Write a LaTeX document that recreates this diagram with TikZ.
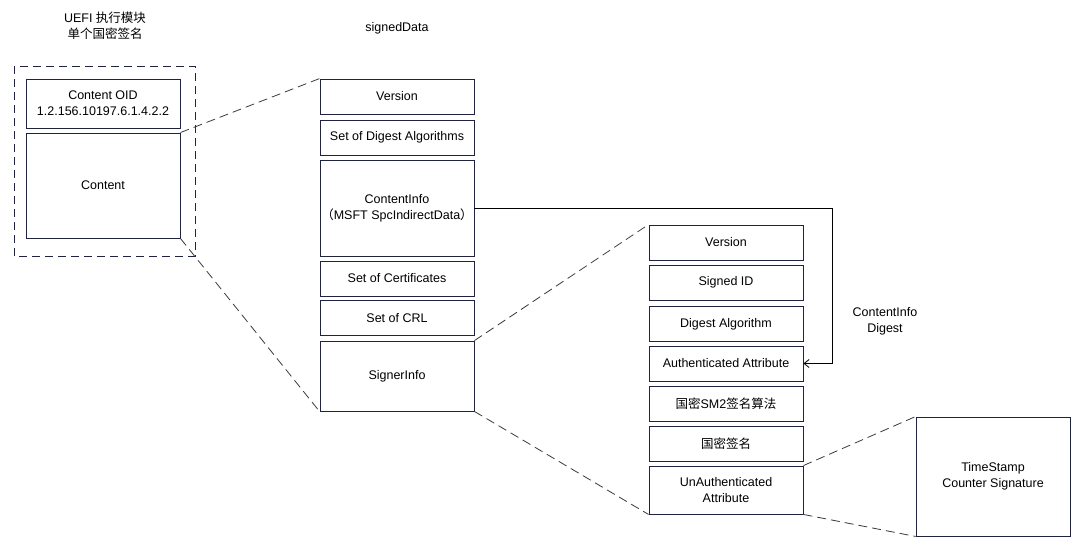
\documentclass[tikz,border=0pt]{standalone}
\usepackage{fontspec}
\setmainfont{Liberation Sans}
\newfontfamily\cjk{Noto Sans CJK SC}
\usepackage{tikz}
\usetikzlibrary{calc, positioning, arrows.meta}

\definecolor{boxline}{HTML}{1F2340}
\definecolor{zoomline}{HTML}{3A3A3A}

\tikzset{
  cell/.style={draw=boxline, line width=0.9pt, minimum width=154pt, inner sep=0pt, align=center},
  zoom/.style={draw=zoomline, line width=0.8pt, dash pattern=on 9pt off 5pt},
}

\begin{document}
\begin{tikzpicture}[x=1pt, y=-1pt, >={Straight Barb[length=5pt, width=8pt]},
  font=\fontsize{12.5}{16}\selectfont]
  \useasboundingbox (0,0) rectangle (1078,541);

  % titles
  \node (title) at (105,26) [align=center] {UEFI {\cjk 执行模块}\\{\cjk 单个国密签名}};
  \node (sd) at (397,28) {signedData};

  % image file
  \draw [boxline, line width=0.9pt, dash pattern=on 8pt off 5pt] (14,66) rectangle (195,256);
  \node (oid) at (103,103.5) [cell, minimum height=49pt] {Content OID\\1.2.156.10197.6.1.4.2.2};
  \node (content) at (103,185.5) [cell, minimum height=105pt] {Content};

  % signedData
  \node (ver) at (397,96.5) [cell, minimum height=35pt] {Version};
  \node (digs) at (397,137.5) [cell, minimum height=35pt] {Set of Digest Algorithms};
  \node (info) at (397,208) [cell, minimum height=96pt] {ContentInfo\\{\cjk （}MSFT SpcIndirectData{\cjk ）}};
  \node (cert) at (397,278.5) [cell, minimum height=35pt] {Set of Certificates};
  \node (crl) at (397,318) [cell, minimum height=35pt] {Set of CRL};
  \node (signer) at (397,376) [cell, minimum height=70pt] {SignerInfo};

  % SignerInfo
  \node (sver) at (726,242.5) [cell, minimum height=35pt] {Version};
  \node (sid) at (726,282.5) [cell, minimum height=35pt] {Signed ID};
  \node (salg) at (726,324) [cell, minimum height=35pt] {Digest Algorithm};
  \node (auth) at (726,363.5) [cell, minimum height=35pt] {Authenticated Attribute};
  \node (sm2) at (726,403.5) [cell, minimum height=35pt] {{\cjk 国密}SM2{\cjk 签名算法}};
  \node (sig) at (726,443.5) [cell, minimum height=35pt] {\cjk 国密签名};
  \node (unauth) at (726,490) [cell, minimum height=48pt] {UnAuthenticated\\Attribute};

  \node (ts) at (993,476.5) [cell, minimum width=154pt, minimum height=119pt] {TimeStamp\\Counter Signature};

  % zoom lines
  \draw [zoom] (content.north east) -- (ver.north west);
  \draw [zoom] (content.south east) -- (signer.south west);
  \draw [zoom] (signer.north east) -- (sver.north west);
  \draw [zoom] (signer.south east) -- (unauth.south west);
  \draw [zoom] (unauth.north east) -- (ts.north west);
  \draw [zoom] (unauth.south east) -- (ts.south west);

  % digest
  \coordinate (bend) at (832,0);
  \draw [->, line width=0.8pt] (info.east) -- (info.east -| bend) |- (auth.east);
  \node (dlabel) at (885,321) [align=center] {ContentInfo\\Digest};
\end{tikzpicture}
\end{document}
